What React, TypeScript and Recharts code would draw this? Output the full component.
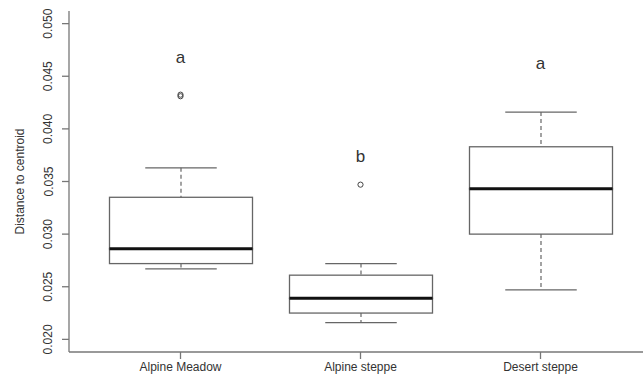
import { ComposedChart, Bar, Line, XAxis, YAxis } from "recharts";

// values
const groups = ["Alpine Meadow", "Alpine steppe", "Desert steppe"];
const whiskerLow = [0.0267, 0.0216, 0.0247];
const quartile1 = [0.0272, 0.0225, 0.03];
const medians = [0.0286, 0.0239, 0.0343];
const quartile3 = [0.0335, 0.0261, 0.0383];
const whiskerHigh = [0.0363, 0.0272, 0.0416];
const outliersFirst = [0.0431, 0.0347, null];
const outliersSecond = [0.04325, null, null];
const letters = ["a", "b", "a"];
const letterPos = [0.0468, 0.0374, 0.0463];
const yTicks = [0.02, 0.025, 0.03, 0.035, 0.04, 0.045, 0.05];

const data = groups.map((name, i) => ({
  name,
  base: whiskerLow[i],
  lowWhisker: quartile1[i] - whiskerLow[i],
  lowBox: medians[i] - quartile1[i],
  highBox: quartile3[i] - medians[i],
  highWhisker: whiskerHigh[i] - quartile3[i],
  out1: outliersFirst[i],
  out2: outliersSecond[i],
  letterY: letterPos[i],
  letter: letters[i],
}));

const LINE = "#666";
const AXIS = "#777";
const TEXT = "#333";

const Empty = () => <g />;

const LowWhisker = (p: any) => {
  const cx = p.x + p.width / 2;
  const cap = p.width / 4;
  const bottom = p.y + p.height;
  return (
    <g>
      <line x1={cx} x2={cx} y1={p.y} y2={bottom} stroke={LINE} strokeWidth={1.2} strokeDasharray="4 3" />
      <line x1={cx - cap} x2={cx + cap} y1={bottom} y2={bottom} stroke={LINE} strokeWidth={1.3} />
    </g>
  );
};

const HighWhisker = (p: any) => {
  const cx = p.x + p.width / 2;
  const cap = p.width / 4;
  return (
    <g>
      <line x1={cx} x2={cx} y1={p.y} y2={p.y + p.height} stroke={LINE} strokeWidth={1.2} strokeDasharray="4 3" />
      <line x1={cx - cap} x2={cx + cap} y1={p.y} y2={p.y} stroke={LINE} strokeWidth={1.3} />
    </g>
  );
};

const LowBox = (p: any) => (
  <rect x={p.x} y={p.y} width={p.width} height={p.height} fill="none" stroke={LINE} strokeWidth={1.3} />
);

const HighBox = (p: any) => {
  const bottom = p.y + p.height;
  return (
    <g>
      <rect x={p.x} y={p.y} width={p.width} height={p.height} fill="none" stroke={LINE} strokeWidth={1.3} />
      <line x1={p.x} x2={p.x + p.width} y1={bottom} y2={bottom} stroke="#111" strokeWidth={3} />
    </g>
  );
};

const YTick = ({ x, y, payload }: any) => (
  <text x={x} y={y} transform={`rotate(-90 ${x} ${y})`} textAnchor="middle" fontSize={12} fill={TEXT}>
    {payload.value.toFixed(3)}
  </text>
);

const YTitle = ({ viewBox }: any) => {
  const cy = viewBox.y + viewBox.height / 2;
  return (
    <text x={23.5} y={cy} transform={`rotate(-90 23.5 ${cy})`} textAnchor="middle" fontSize={12} fill={TEXT}>
      Distance to centroid
    </text>
  );
};

const Letter = (p: any) => {
  if (p.cx == null || p.cy == null) return <g key={p.index} />;
  return (
    <text key={p.index} x={p.cx} y={p.cy} dy={6} textAnchor="middle" fontSize={17} fill={TEXT}>
      {p.payload.letter}
    </text>
  );
};

const outlierDot = { r: 2.6, stroke: "#444", strokeWidth: 1, fill: "none" };

export default function App() {
  return (
    <div
      style={{
        position: "absolute",
        left: 0,
        top: 0,
        width: 643,
        height: 382,
        overflow: "hidden",
        background: "#fff",
        fontFamily: "'Liberation Sans', Arial, sans-serif",
      }}
    >
      <ComposedChart width={654} height={382} data={data} margin={{ top: 11, right: 2, bottom: 0, left: 0 }}>
        <XAxis
          dataKey="name"
          height={30}
          padding={{ left: 21.5, right: 21.5 }}
          interval={0}
          tickSize={7}
          tickMargin={3}
          axisLine={{ stroke: AXIS, strokeWidth: 1.3 }}
          tickLine={{ stroke: AXIS, strokeWidth: 1.3 }}
          tick={{ fill: TEXT, fontSize: 12 }}
        />
        <XAxis
          xAxisId="top"
          orientation="top"
          dataKey="name"
          height={0}
          tick={false}
          tickLine={false}
          axisLine={{ stroke: AXIS, strokeWidth: 1.3 }}
        />
        <YAxis
          width={69}
          type="number"
          domain={[0.0188, 0.0512]}
          allowDataOverflow
          ticks={yTicks}
          tickSize={7}
          tickMargin={9.5}
          axisLine={{ stroke: AXIS, strokeWidth: 1.3 }}
          tickLine={{ stroke: AXIS, strokeWidth: 1.3 }}
          tick={<YTick />}
          label={{ content: <YTitle /> }}
        />
        <Bar dataKey="base" stackId="box" barSize={143} shape={<Empty />} isAnimationActive={false} />
        <Bar dataKey="lowWhisker" stackId="box" barSize={143} shape={<LowWhisker />} isAnimationActive={false} />
        <Bar dataKey="lowBox" stackId="box" barSize={143} shape={<LowBox />} isAnimationActive={false} />
        <Bar dataKey="highBox" stackId="box" barSize={143} shape={<HighBox />} isAnimationActive={false} />
        <Bar dataKey="highWhisker" stackId="box" barSize={143} shape={<HighWhisker />} isAnimationActive={false} />
        <Line dataKey="out1" stroke="none" dot={outlierDot} activeDot={false} isAnimationActive={false} />
        <Line dataKey="out2" stroke="none" dot={outlierDot} activeDot={false} isAnimationActive={false} />
        <Line dataKey="letterY" stroke="none" dot={Letter} activeDot={false} isAnimationActive={false} />
      </ComposedChart>
    </div>
  );
}
